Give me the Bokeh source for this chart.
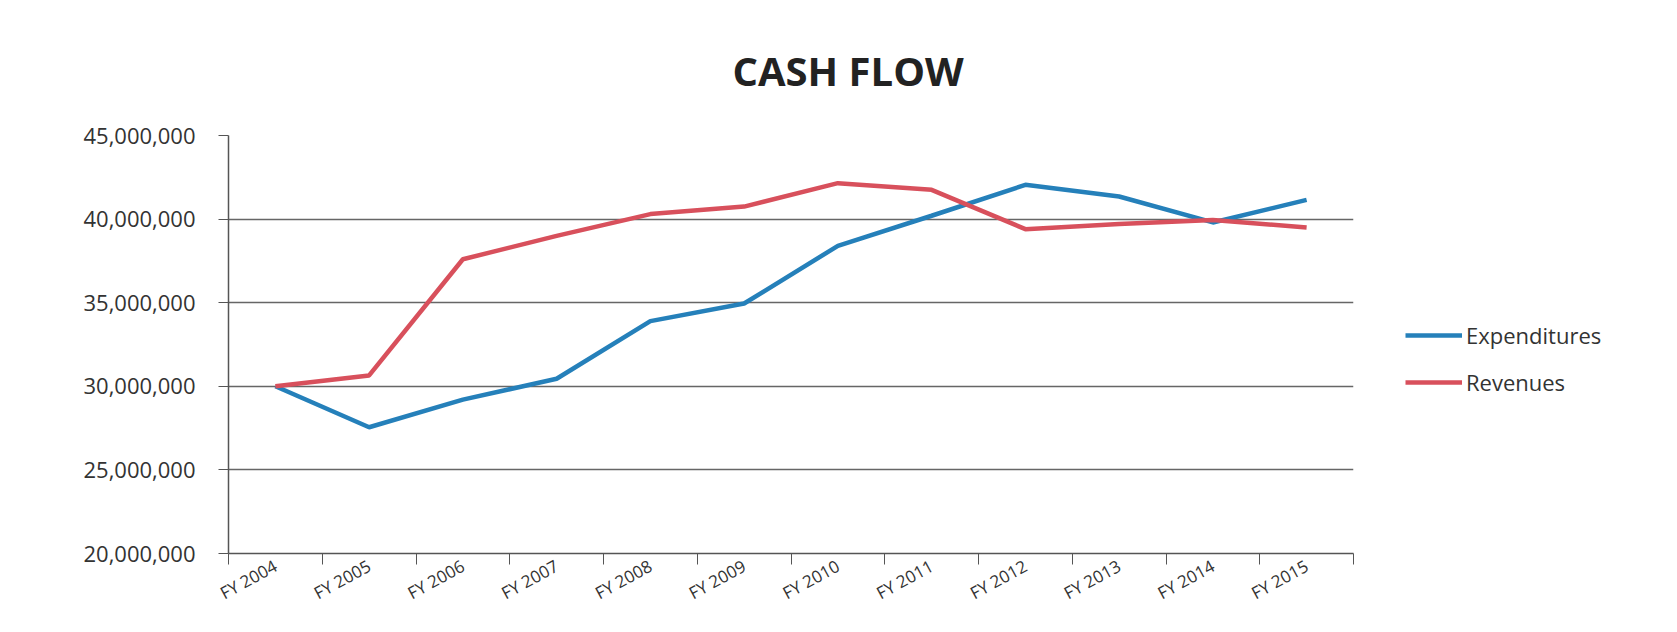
import numpy as np
from bokeh.plotting import figure
from bokeh.models import (FixedTicker, NumeralTickFormatter, Legend, LegendItem, Range1d)
from bokeh.embed import file_html
from bokeh.resources import INLINE

# ---- data ----
years = ["FY 2004", "FY 2005", "FY 2006", "FY 2007", "FY 2008", "FY 2009",
         "FY 2010", "FY 2011", "FY 2012", "FY 2013", "FY 2014", "FY 2015"]
expenditures = [30.0e6, 27.55e6, 29.2e6, 30.45e6, 33.9e6, 34.95e6,
                38.4e6, 40.2e6, 42.05e6, 41.35e6, 39.8e6, 41.15e6]
revenues = [30.0e6, 30.65e6, 37.6e6, 39.0e6, 40.3e6, 40.75e6,
            42.15e6, 41.75e6, 39.4e6, 39.7e6, 39.95e6, 39.5e6]
y_ticks = [20e6, 25e6, 30e6, 35e6, 40e6, 45e6]
title_text = "CASH FLOW"

FONT = "Open Sans"
x = np.arange(len(years)) + 0.5

p = figure(frame_width=1125, frame_height=418,
           min_border_left=228, min_border_right=312,
           min_border_top=135, min_border_bottom=68,
           x_range=Range1d(0, len(years)), y_range=Range1d(y_ticks[0], y_ticks[-1]),
           output_backend="svg", toolbar_location=None)
p.outline_line_color = None
p.background_fill_color = "white"
p.border_fill_color = "white"

# title
p.title.text = title_text
p.title.align = "left"
p.title.offset = 504
p.title.standoff = 76
p.title.text_font = FONT
p.title.text_font_size = "40px"
p.title.text_font_style = "bold"
p.title.text_color = "#222222"

# y axis
p.yaxis.ticker = FixedTicker(ticks=y_ticks)
p.yaxis.formatter = NumeralTickFormatter(format="0,0")
p.yaxis.axis_line_color = "#555555"
p.yaxis.axis_line_width = 1.5
p.yaxis.major_tick_line_color = "#555555"
p.yaxis.major_tick_out = 10
p.yaxis.major_tick_in = 0
p.yaxis.minor_tick_line_color = None
p.yaxis.major_label_standoff = 23
p.yaxis.major_label_text_font = FONT
p.yaxis.major_label_text_font_size = "22px"
p.yaxis.major_label_text_color = "#333333"

# x axis
p.xaxis.ticker = FixedTicker(ticks=list(x), minor_ticks=list(range(len(years) + 1)))
p.xaxis.major_label_overrides = {float(v): s for v, s in zip(x, years)}
p.xaxis.major_tick_line_color = None
p.xaxis.minor_tick_line_color = "#555555"
p.xaxis.minor_tick_out = 11
p.xaxis.minor_tick_in = 0
p.xaxis.axis_line_color = "#555555"
p.xaxis.axis_line_width = 1.5
p.xaxis.major_label_orientation = 0.5
p.xaxis.major_label_standoff = 0
p.xaxis.major_label_text_font = FONT
p.xaxis.major_label_text_font_size = "17px"
p.xaxis.major_label_text_color = "#333333"

p.xgrid.grid_line_color = None
p.ygrid.ticker = FixedTicker(ticks=y_ticks)
p.ygrid.grid_line_color = "#666666"
p.ygrid.grid_line_width = 1.6

r_exp = p.line(x, expenditures, line_color="#2580ba", line_width=4.5)
r_rev = p.line(x, revenues, line_color="#d8505c", line_width=4.5)

legend = Legend(items=[LegendItem(label="Expenditures", renderers=[r_exp]),
                       LegendItem(label="Revenues", renderers=[r_rev])],
                location=(52, 156), margin=0, padding=0, spacing=17,
                glyph_width=57, glyph_height=20, label_height=20,
                label_standoff=4, label_text_font=FONT,
                label_text_font_size="22px", label_text_color="#333333",
                border_line_color=None, background_fill_alpha=0)
p.add_layout(legend, "right")

open("out.html", "w").write(file_html(p, INLINE))
